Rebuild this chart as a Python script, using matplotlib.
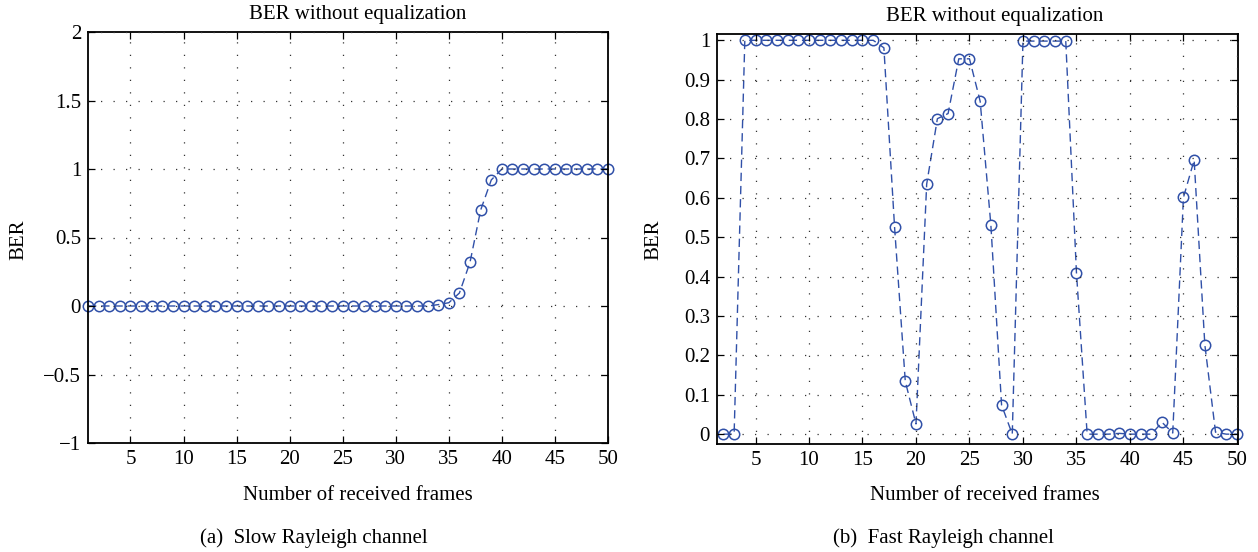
import matplotlib
matplotlib.use("Agg")
import matplotlib.pyplot as plt
import numpy as np

plt.rcParams['font.family'] = ['Liberation Serif', 'DejaVu Serif']
plt.rcParams['font.size'] = 15

# ---- data ----
slow_x = list(range(1, 51))
slow_ber = [0.0] * 33 + [0.01, 0.024, 0.095, 0.32, 0.70, 0.92] + [1.0] * 11

fast_x = list(range(2, 51))
fast_ber = [0.0, 0.0,
            1.0, 1.0, 1.0, 1.0, 1.0, 1.0, 1.0, 1.0, 1.0, 1.0, 1.0, 1.0, 1.0,
            0.981, 0.525, 0.134, 0.026, 0.635, 0.801, 0.814, 0.953, 0.953,
            0.845, 0.531, 0.074, 0.0,
            0.998, 0.998, 0.998, 0.998, 0.998,
            0.41, 0.0, 0.0, 0.0, 0.002, 0.0, 0.0, 0.0,
            0.03, 0.003, 0.601, 0.696, 0.227, 0.005, 0.0, 0.0]

xticks = [5, 10, 15, 20, 25, 30, 35, 40, 45, 50]
slow_yticks = [-1, -0.5, 0, 0.5, 1, 1.5, 2]
slow_yticklabels = ['\u22121', '\u22120.5', '0', '0.5', '1', '1.5', '2']
fast_yticks = [0, 0.1, 0.2, 0.3, 0.4, 0.5, 0.6, 0.7, 0.8, 0.9, 1]
fast_yticklabels = ['0', '0.1', '0.2', '0.3', '0.4', '0.5', '0.6', '0.7', '0.8', '0.9', '1']

title = 'BER without equalization'
xlabel = 'Number of received frames'
ylabel = 'BER'
captions = ['(a)  Slow Rayleigh channel', '(b)  Fast Rayleigh channel']

W, H = 1258, 552
fig = plt.figure(figsize=(W / 100, H / 100), dpi=100)

line_color = '#3050a8'
FS = 15

def px_axes(l, t, r, b):
    return fig.add_axes([l / W, 1 - b / H, (r - l) / W, (b - t) / H])

def ftext(x, y, s, **kw):
    fig.text(x / W, 1 - y / H, s, ha='center', va='center', fontsize=FS, **kw)

def style(ax):
    for s in ax.spines.values():
        s.set_linewidth(1.3)
        s.set_color('black')
    ax.tick_params(direction='in', length=5, width=0.9, top=True, right=True,
                   labelsize=FS, pad=5)
    ax.grid(True, color='#333333', linestyle=(0, (1, 9)), linewidth=0.9)
    ax.set_axisbelow(False)

ax1 = px_axes(88, 32, 608, 443)
ax1.plot(slow_x, slow_ber, linestyle=(0, (6, 3.5)), linewidth=1.0, color=line_color,
         marker='o', markersize=7.5, markerfacecolor='none', markeredgewidth=1.1,
         clip_on=False)
ax1.set_xlim(1, 50)
ax1.set_ylim(-1, 2)
ax1.set_xticks(xticks)
ax1.set_yticks(slow_yticks)
ax1.set_yticklabels(slow_yticklabels)
style(ax1)

ax2 = px_axes(717, 34, 1238, 444)
ax2.plot(fast_x, fast_ber, linestyle=(0, (6, 3.5)), linewidth=1.0, color=line_color,
         marker='o', markersize=7.5, markerfacecolor='none', markeredgewidth=1.1,
         clip_on=False)
ax2.set_xlim(1.4, 50.1)
ax2.set_ylim(-0.025, 1.016)
ax2.set_xticks(xticks)
ax2.set_yticks(fast_yticks)
ax2.set_yticklabels(fast_yticklabels)
style(ax2)

# titles, axis labels, captions
ftext(358, 15, title)
ftext(995, 17, title)
ftext(358, 495, xlabel)
ftext(985, 495, xlabel)
ftext(19, 240, ylabel, rotation=90)
ftext(654, 240, ylabel, rotation=90)
ftext(314, 538, captions[0])
ftext(943, 538, captions[1])

fig.savefig('out.png', dpi=100)
